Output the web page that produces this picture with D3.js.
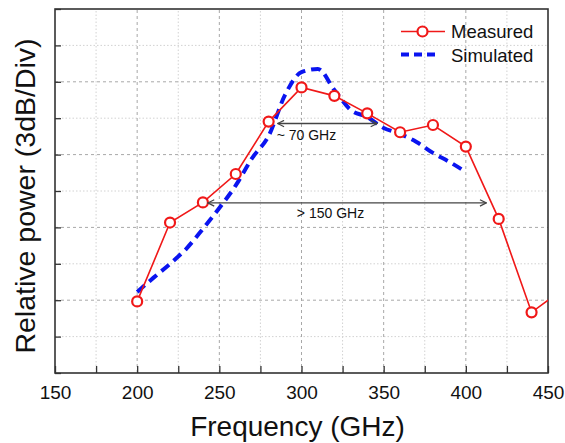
<!DOCTYPE html>
<html>
  <head>
    <meta charset="utf-8">
    <script src="https://d3js.org/d3.v7.min.js"></script>
    <style>
      body { margin: 0; background: #fff; }
      svg text { font-family: "Liberation Sans", Arial, sans-serif; fill: #111; }
    </style>
  </head>
  <body>
    <svg id="chart" width="565" height="443"></svg>

    <script>
      // measured points (GHz, dB relative)
      var measFreq = [200, 220, 240, 260, 280, 300, 320, 340, 360, 380, 400, 420, 440, 460];
      var measPower = [-12.05, -8.8, -7.97, -6.8, -4.64, -3.23, -3.58, -4.3, -5.08, -4.78, -5.67, -8.65, -12.5, -11.5];

      // simulated curve
      var simFreq = [200, 210, 220, 230, 240, 250, 260, 270, 280, 290, 300, 310, 320, 330, 340, 350, 360, 370, 380, 390, 398];
      var simPower = [-11.66, -11.07, -10.5, -9.87, -9.06, -8.2, -7.27, -6.14, -5.23, -3.54, -2.6, -2.47, -3.34, -4.16, -4.45, -4.9, -5.15, -5.48, -5.93, -6.3, -6.63];

      var xTicks = [150, 200, 250, 300, 350, 400, 450];
      var xMinor = [175, 225, 275, 325, 375, 425];
      var yTicks = [-15, -12, -9, -6, -3, 0];
      var yMinor = [-13.5, -10.5, -7.5, -4.5, -1.5];

      var seriesNames = ["Measured", "Simulated"];

      // annotation arrows: [from GHz, to GHz, level dB, label]
      var bandNotes = [
        [285.5, 346, -4.72, "~ 70 GHz"],
        [243, 412.5, -7.99, "> 150 GHz"]
      ];

      var m = { left: 55, right: 17, top: 9, bottom: 70 };
      var W = 565, H = 443;
      var svg = d3.select("#chart");

      var x = d3.scaleLinear().domain([150, 450]).range([m.left, W - m.right]);
      var y = d3.scaleLinear().domain([-15, 0]).range([H - m.bottom, m.top]);

      var defs = svg.append("defs");
      defs.append("clipPath").attr("id", "plot")
        .append("rect")
        .attr("x", x.range()[0]).attr("y", y.range()[1])
        .attr("width", x.range()[1] - x.range()[0])
        .attr("height", y.range()[0] - y.range()[1]);

      ["arrEnd", "arrStart"].forEach(function(id, i) {
        defs.append("marker")
          .attr("id", id)
          .attr("viewBox", "0 0 10 10")
          .attr("refX", i ? 1 : 9).attr("refY", 5)
          .attr("markerWidth", 8).attr("markerHeight", 8)
          .attr("markerUnits", "userSpaceOnUse")
          .attr("orient", "auto")
          .append("path")
          .attr("d", i ? "M9,1 L1,5 L9,9" : "M1,1 L9,5 L1,9")
          .attr("fill", "none")
          .attr("stroke", "#444")
          .attr("stroke-width", 1.5);
      });

      // grid
      var grid = svg.append("g");
      grid.selectAll(".vmin").data(xMinor).enter().append("line")
        .attr("x1", x).attr("x2", x)
        .attr("y1", y(-15)).attr("y2", y(0))
        .attr("stroke", "#d2d2d2").attr("stroke-dasharray", "1.5,2");
      grid.selectAll(".hmin").data(yMinor).enter().append("line")
        .attr("y1", y).attr("y2", y)
        .attr("x1", x(150)).attr("x2", x(450))
        .attr("stroke", "#d2d2d2").attr("stroke-dasharray", "1.5,2");
      grid.selectAll(".vmaj").data(xTicks.slice(1, -1)).enter().append("line")
        .attr("x1", x).attr("x2", x)
        .attr("y1", y(-15)).attr("y2", y(0))
        .attr("stroke", "#a8a8a8").attr("stroke-dasharray", "3,3");
      grid.selectAll(".hmaj").data(yTicks.slice(1, -1)).enter().append("line")
        .attr("y1", y).attr("y2", y)
        .attr("x1", x(150)).attr("x2", x(450))
        .attr("stroke", "#a8a8a8").attr("stroke-dasharray", "3,3");

      // axes (inward ticks)
      var xAxis = svg.append("g")
        .attr("transform", "translate(0," + y(-15) + ")")
        .call(d3.axisBottom(x).tickValues(xTicks.concat(xMinor)).tickSize(-7).tickPadding(13)
          .tickFormat(function(d) { return xTicks.indexOf(d) >= 0 ? d : ""; }));
      xAxis.select(".domain").remove();
      xAxis.selectAll("line").attr("stroke", "#333").attr("stroke-width", 1.3);
      xAxis.selectAll("text").style("font-size", "19px").attr("fill", "#111");

      var yAxis = svg.append("g")
        .attr("transform", "translate(" + x(150) + ",0)")
        .call(d3.axisLeft(y).tickValues(yTicks.concat(yMinor)).tickSize(-6).tickFormat(""));
      yAxis.select(".domain").remove();
      yAxis.selectAll("line").attr("stroke", "#333").attr("stroke-width", 1.3);

      // frame
      svg.append("rect")
        .attr("x", x(150)).attr("y", y(0))
        .attr("width", x(450) - x(150)).attr("height", y(-15) - y(0))
        .attr("fill", "none").attr("stroke", "#333").attr("stroke-width", 1.6);

      var plot = svg.append("g").attr("clip-path", "url(#plot)");

      var meas = measFreq.map(function(f, i) { return [f, measPower[i]]; });
      var sim = simFreq.map(function(f, i) { return [f, simPower[i]]; });

      plot.append("path")
        .datum(sim)
        .attr("d", d3.line().curve(d3.curveMonotoneX).x(function(d) { return x(d[0]); }).y(function(d) { return y(d[1]); }))
        .attr("fill", "none").attr("stroke", "#0a14f0")
        .attr("stroke-width", 4).attr("stroke-dasharray", "10,6");

      plot.append("path")
        .datum(meas)
        .attr("d", d3.line().x(function(d) { return x(d[0]); }).y(function(d) { return y(d[1]); }))
        .attr("fill", "none").attr("stroke", "#f01818").attr("stroke-width", 1.6);

      plot.selectAll("circle.m").data(meas).enter().append("circle")
        .attr("cx", function(d) { return x(d[0]); })
        .attr("cy", function(d) { return y(d[1]); })
        .attr("r", 5)
        .attr("fill", "#fff").attr("stroke", "#f01818").attr("stroke-width", 2.2);

      // bandwidth arrows
      bandNotes.forEach(function(b) {
        svg.append("line")
          .attr("x1", x(b[0])).attr("x2", x(b[1]))
          .attr("y1", y(b[2])).attr("y2", y(b[2]))
          .attr("stroke", "#444").attr("stroke-width", 1.4)
          .attr("marker-start", "url(#arrStart)")
          .attr("marker-end", "url(#arrEnd)");
      });
      svg.append("text").attr("x", x(bandNotes[0][0]) - 1).attr("y", y(bandNotes[0][2]) + 16)
        .style("font-size", "14px").text(bandNotes[0][3]);
      svg.append("text").attr("x", x(bandNotes[1][0]) + 89).attr("y", y(bandNotes[1][2]) + 15)
        .style("font-size", "14px").text(bandNotes[1][3]);

      // legend
      var leg = svg.append("g");
      leg.append("line").attr("x1", 401).attr("x2", 445).attr("y1", 31.5).attr("y2", 31.5)
        .attr("stroke", "#f01818").attr("stroke-width", 1.6);
      leg.append("circle").attr("cx", 422.5).attr("cy", 31.5).attr("r", 5)
        .attr("fill", "#fff").attr("stroke", "#f01818").attr("stroke-width", 2.2);
      leg.append("line").attr("x1", 401).attr("x2", 439).attr("y1", 54.5).attr("y2", 54.5)
        .attr("stroke", "#0a14f0").attr("stroke-width", 4).attr("stroke-dasharray", "8,5");
      leg.selectAll("text").data(seriesNames).enter().append("text")
        .attr("x", 451).attr("y", function(d, i) { return 38 + i * 23.5; })
        .style("font-size", "18.5px").text(function(d) { return d; });

      // axis titles
      svg.append("text")
        .attr("x", x(300) - 4).attr("y", 436)
        .attr("text-anchor", "middle")
        .style("font-size", "28px")
        .text("Frequency (GHz)");
      svg.append("text")
        .attr("transform", "translate(35," + 196 + ") rotate(-90)")
        .attr("text-anchor", "middle")
        .style("font-size", "28.5px")
        .text("Relative power (3dB/Div)");
    </script>
  </body>
</html>
